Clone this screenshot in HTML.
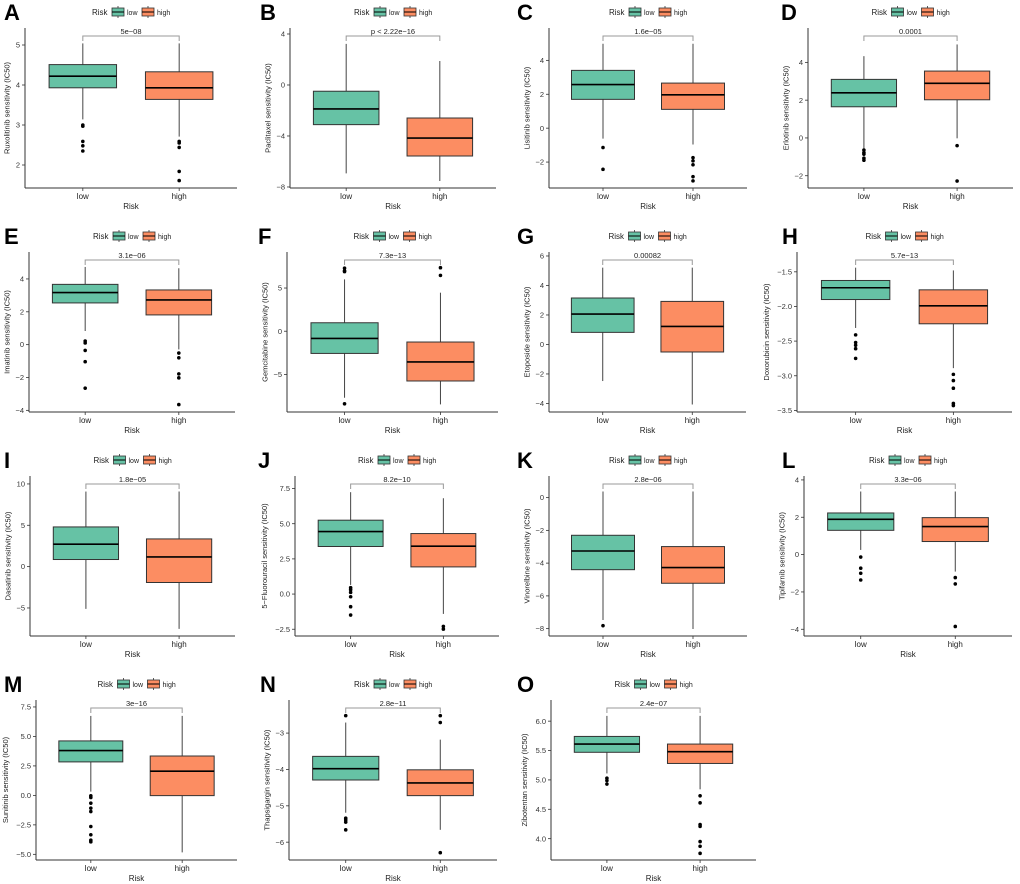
<!DOCTYPE html>
<html><head><meta charset="utf-8">
<style>html,body{margin:0;padding:0;background:#fff}svg{display:block}text{font-family:"Liberation Sans",Arial,sans-serif}</style>
</head><body>
<svg id="fig" width="1020" height="884" viewBox="0 0 1020 884" xmlns="http://www.w3.org/2000/svg"></svg>
<script>
// ---- data ----
const panelLetters = ["A","B","C","D","E","F","G","H","I","J","K","L","M","N","O"];
const drugNames = ["Ruxolitinib","Paclitaxel","Lisitinib","Erlotinib","Imatinib","Gemcitabine","Etoposide","Doxorubicin","Dasatinib","5\u2212Fluorouracil","Vinorelbine","Tipifarnib","Sunitinib","Thapsigargin","Zibotentan"];
const pValues = ["5e\u221208","p < 2.22e\u221216","1.6e\u221205","0.0001","3.1e\u221206","7.3e\u221213","0.00082","5.7e\u221213","1.8e\u221205","8.2e\u221210","2.8e\u221206","3.3e\u221206","3e\u221216","2.8e\u221211","2.4e\u221207"];
const categories = ["low","high"];
// y domains [lo, hi]
const yDomains = [[1.425,5.425],[-8.08,4.47],[-3.53,5.91],[-2.65,5.82],[-4.10,5.64],[-9.35,9.17],[-4.58,6.27],[-3.523,-1.214],[-8.39,10.96],[-2.98,8.39],[-8.45,1.32],[-4.36,4.21],[-5.48,8.09],[-6.49,-2.09],[3.637,6.36]];
const yTicks = [[2,3,4,5],[-8,-4,0,4],[-2,0,2,4],[-2,0,2,4],[-4,-2,0,2,4],[-5,0,5],[-4,-2,0,2,4,6],[-3.5,-3,-2.5,-2,-1.5],[-5,0,5,10],[-2.5,0,2.5,5,7.5],[-8,-6,-4,-2,0],[-4,-2,0,2,4],[-5,-2.5,0,2.5,5,7.5],[-6,-5,-4,-3],[4,4.5,5,5.5,6]];
const tickDecimals = [0,0,0,0,0,0,0,1,0,1,0,0,1,0,1];
// box stats: [whiskerLow, q1, median, q3, whiskerHigh]
const lowStats = [[3.14,3.93,4.22,4.51,5.04],[-6.93,-3.11,-1.88,-0.49,3.22],[-0.62,1.70,2.57,3.41,4.98],[-0.55,1.65,2.39,3.10,4.33],[0.83,2.54,3.17,3.67,4.73],[-7.7,-2.57,-0.83,0.98,6.0],[-2.48,0.82,2.06,3.15,5.21],[-2.31,-1.90,-1.73,-1.625,-1.44],[-5.11,0.86,2.71,4.80,9.08],[0.65,3.38,4.44,5.25,7.24],[-7.47,-4.40,-3.26,-2.30,0.37],[0.25,1.30,1.89,2.23,3.38],[0.32,2.84,3.80,4.62,6.74],[-5.19,-4.29,-3.98,-3.64,-2.71],[5.11,5.47,5.61,5.74,6.09]];
const highStats = [[2.71,3.64,3.93,4.33,5.04],[-7.53,-5.57,-4.16,-2.59,1.88],[-0.96,1.11,1.97,2.66,4.98],[-0.02,2.02,2.89,3.54,4.95],[-0.29,1.81,2.72,3.33,4.65],[-8.47,-5.76,-3.56,-1.25,4.46],[-4.07,-0.51,1.22,2.92,5.21],[-2.89,-2.25,-1.99,-1.76,-1.48],[-7.53,-1.92,1.17,3.35,9.08],[-1.41,1.93,3.40,4.30,6.81],[-8.02,-5.23,-4.27,-2.99,0.37],[-0.91,0.70,1.50,1.98,3.38],[-4.83,-0.02,2.05,3.34,6.74],[-5.66,-4.72,-4.37,-4.01,-3.18],[4.84,5.28,5.48,5.61,6.09]];
const lowOutliers = [[3.0,2.97,2.59,2.48,2.35],[],[-1.14,-2.43],[-0.64,-0.78,-0.86,-1.07,-1.18],[0.22,0.10,-0.35,-1.04,-2.65],[7.3,7.0,6.9,-8.4],[],[-2.41,-2.52,-2.56,-2.61,-2.75],[],[0.45,0.31,0.12,-0.19,-0.90,-1.49],[-7.82],[-0.13,-0.73,-1.0,-1.36],[-0.04,-0.18,-0.66,-1.08,-1.37,-2.64,-3.34,-3.80,-3.94],[-2.52,-5.34,-5.39,-5.45,-5.66],[5.03,4.99,4.93]];
const highOutliers = [[2.59,2.55,2.44,1.84,1.61],[],[-1.74,-1.93,-2.16,-2.86,-3.11],[-0.41,-2.28],[-0.51,-0.80,-1.78,-2.02,-3.65],[7.35,6.46],[],[-2.98,-3.07,-3.18,-3.40,-3.43],[],[-2.30,-2.49],[],[-1.23,-1.57,-3.85],[],[-2.52,-2.71,-6.29],[4.73,4.61,4.24,4.21,3.95,3.87,3.75]];
// ---- layout (not data) ----
const axLeft = [25,290,549,808,29,287,549,797,30,295,549,804,36,289,551];
const axRight = [237,496,747,1013,235,498,746,1012,235,499,747,1012,237,497,756];
const letterX = [4,260,517,781,4,258,517,782,4,258,517,782,4,260,517];
const rowBottom = [188,412,636,860];
const rowLegendY = [12,236,460,684];
const PH = 160;
const GREEN="#66C2A5", ORANGE="#FC8D62";
const svg=document.getElementById('fig');
const NS="http://www.w3.org/2000/svg";
function mk(tag,attrs,parent){const e=document.createElementNS(NS,tag);for(const k in attrs)e.setAttribute(k,attrs[k]);(parent||svg).appendChild(e);return e;}
function fmt(v,d){const s=v.toFixed(d);return s.replace('-','\u2212');}

panelLetters.forEach((L,i)=>{
  const row=Math.floor(i/4);
  const B=rowBottom[row], T=B-PH, ly=rowLegendY[row];
  const x0=axLeft[i], x1=axRight[i];
  const [lo,hi]=yDomains[i];
  const ys=v=>B-(v-lo)/(hi-lo)*PH;
  const unit=(x1-x0)/2.2;
  const xs=c=>x0+(c+0.6)*unit;
  const g=mk('g',{});
  
  
  const lt=mk('text',{x:letterX[i],y:ly+8,'font-size':22,'font-weight':'bold',fill:'#000'},g);lt.textContent=L;
  
  
  // legend
  const cx=(x0+x1)/2, lx=cx-39;
  const lg=mk('g',{},g);
  
  
  let t=mk('text',{x:lx,y:ly+3,'font-size':8,fill:'#222'},lg);t.textContent='Risk';
  [[GREEN,'low',lx+20],[ORANGE,'high',lx+50]].forEach(([c,name,kx])=>{
    const e=mk('g',{},lg);
    
    
    mk('line',{x1:kx+6,x2:kx+6,y1:ly-6,y2:ly+6,stroke:'#333','stroke-width':0.8},e);
    mk('rect',{x:kx,y:ly-4,width:12,height:8,fill:c,stroke:'#333','stroke-width':0.8},e);
    mk('line',{x1:kx,x2:kx+12,y1:ly,y2:ly,stroke:'#000','stroke-width':1},e);
    const tt=mk('text',{x:kx+15,y:ly+3,'font-size':7,fill:'#222'},e);tt.textContent=name;
  });
  // axes
  const ax=mk('line',{x1:x0,x2:x0,y1:T,y2:B,stroke:'#333','stroke-width':1},g);
  
  
  const bx=mk('line',{x1:x0,x2:x1,y1:B,y2:B,stroke:'#333','stroke-width':1},g);
  
  
  let maxw=0;
  yTicks[i].forEach(v=>{
    const y=ys(v);
    mk('line',{x1:x0-3,x2:x0,y1:y,y2:y,stroke:'#333','stroke-width':0.8},g);
    const s=fmt(v,tickDecimals[i]);
    maxw=Math.max(maxw,s.length*4.3);
    const tk=mk('text',{x:x0-5,y:y+2.6,'font-size':7.5,'text-anchor':'end',fill:'#333'},g);tk.textContent=s;
    
    
  });
  const tx=x0-5-maxw-6, tyc=(T+B)/2;
  const yt=mk('text',{x:tx,y:tyc,'font-size':7.5,'text-anchor':'middle',fill:'#222',transform:`rotate(-90 ${tx} ${tyc})`},g);
  yt.textContent=drugNames[i]+' sensitivity (IC50)';
  
  
  categories.forEach((c,ci)=>{
    const x=xs(ci);
    mk('line',{x1:x,x2:x,y1:B,y2:B+3,stroke:'#333','stroke-width':0.8},g);
    const xl=mk('text',{x:x,y:B+11,'font-size':8,'text-anchor':'middle',fill:'#222'},g);xl.textContent=c;
    
    
  });
  const xt=mk('text',{x:(x0+x1)/2,y:B+21,'font-size':8,'text-anchor':'middle',fill:'#222'},g);xt.textContent='Risk';
  
  
  // boxes
  [[lowStats[i],lowOutliers[i],GREEN,0],[highStats[i],highOutliers[i],ORANGE,1]].forEach(([st,outs,col,ci])=>{
    const x=xs(ci), hw=0.35*unit;
    const bg=mk('g',{},g);
    
    
    mk('line',{x1:x,x2:x,y1:ys(st[0]),y2:ys(st[4]),stroke:'#444','stroke-width':1},bg);
    mk('rect',{x:x-hw,y:ys(st[3]),width:2*hw,height:ys(st[1])-ys(st[3]),fill:col,stroke:'#333','stroke-width':1},bg);
    mk('line',{x1:x-hw,x2:x+hw,y1:ys(st[2]),y2:ys(st[2]),stroke:'#000','stroke-width':1.6},bg);
    outs.forEach(v=>{
      const p=mk('circle',{cx:x,cy:ys(v),r:1.8,fill:'#000'},bg);
      
      
    });
  });
  // bracket
  const by=B-152, xa=xs(0), xb=xs(1);
  const br=mk('path',{d:`M${xa},${by+5}V${by}H${xb}V${by+5}`,fill:'none',stroke:'#999','stroke-width':1},g);
  
  
  const pt=mk('text',{x:(xa+xb)/2,y:by-2,'font-size':7.5,'text-anchor':'middle',fill:'#222'},g);pt.textContent=pValues[i];
  
  
});
</script>
</body></html>
